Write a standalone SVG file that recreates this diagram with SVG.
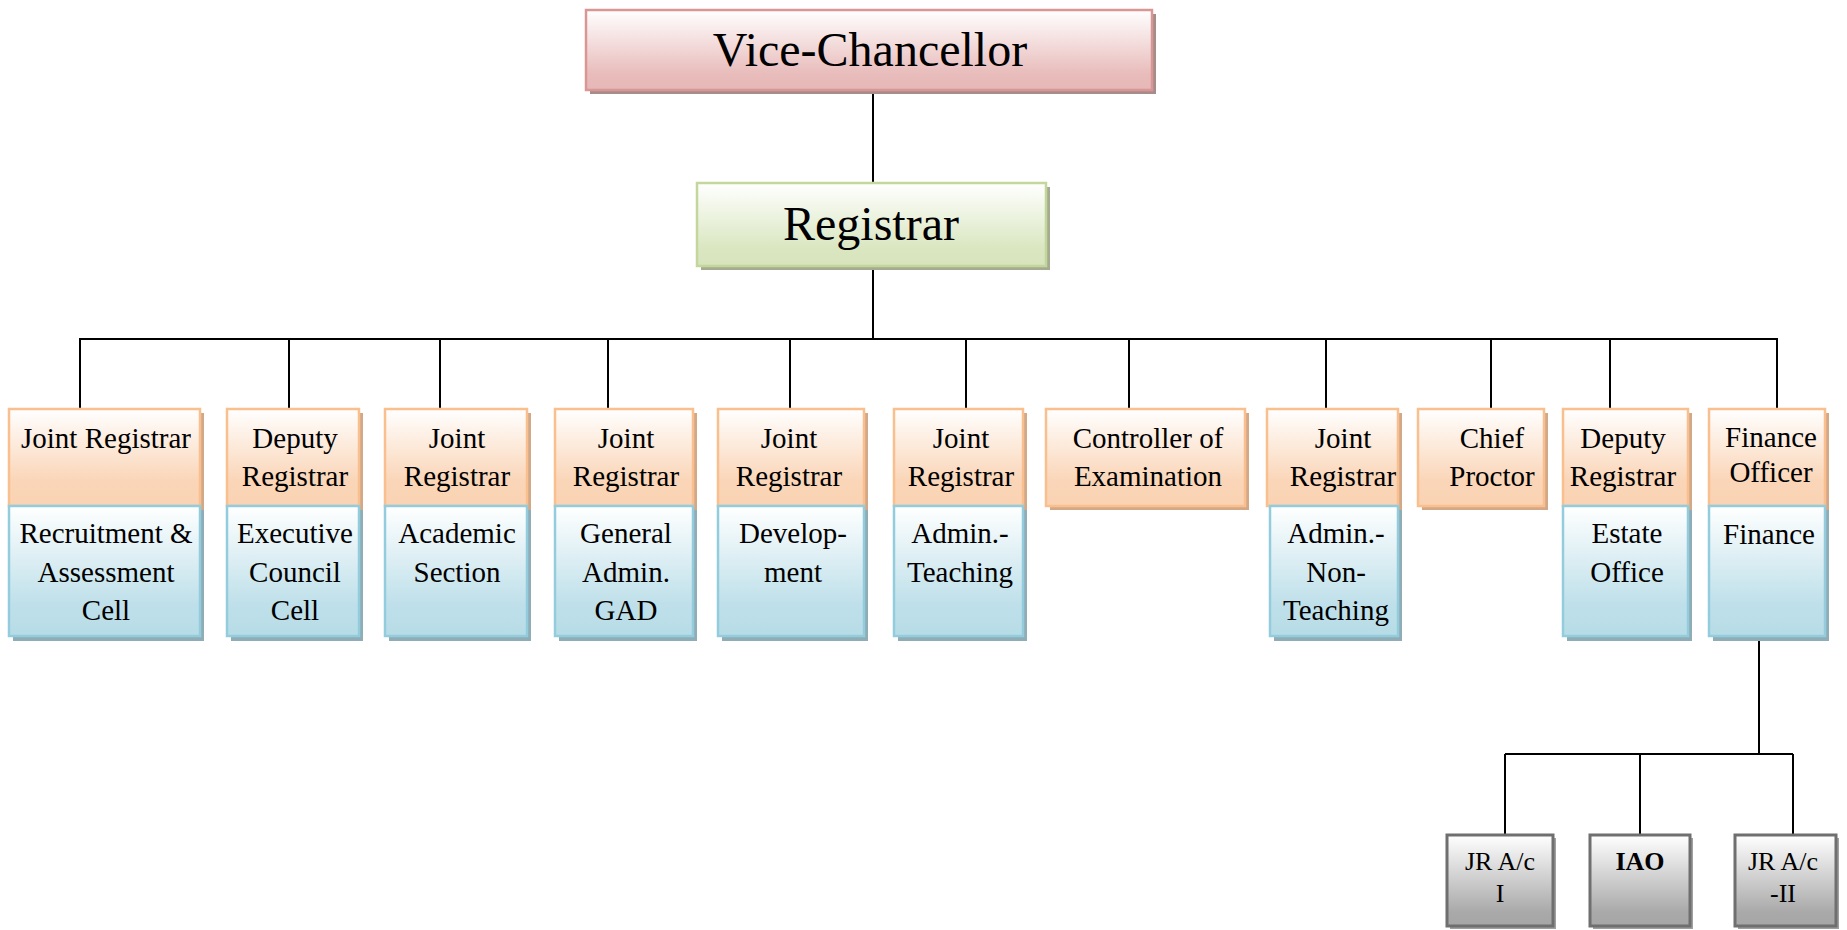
<svg xmlns="http://www.w3.org/2000/svg" width="1847" height="930" viewBox="0 0 1847 930">
<defs>
<linearGradient id="gO" x1="0" y1="0" x2="0" y2="1"><stop offset="0" stop-color="#ffffff"/><stop offset="0.75" stop-color="#fad5b7"/><stop offset="1" stop-color="#f9d3b3"/></linearGradient>
<linearGradient id="gB" x1="0" y1="0" x2="0" y2="1"><stop offset="0" stop-color="#ffffff"/><stop offset="0.75" stop-color="#bfe0ea"/><stop offset="1" stop-color="#b7dce6"/></linearGradient>
<linearGradient id="gP" x1="0" y1="0" x2="0" y2="1"><stop offset="0" stop-color="#ffffff"/><stop offset="0.8" stop-color="#e8bcbb"/><stop offset="1" stop-color="#e6b8b7"/></linearGradient>
<linearGradient id="gG" x1="0" y1="0" x2="0" y2="1"><stop offset="0" stop-color="#ffffff"/><stop offset="0.8" stop-color="#d9e6c0"/><stop offset="1" stop-color="#d7e4bd"/></linearGradient>
<linearGradient id="gY" x1="0" y1="0" x2="0" y2="1"><stop offset="0" stop-color="#ffffff"/><stop offset="0.85" stop-color="#a9a9a9"/><stop offset="1" stop-color="#a6a6a6"/></linearGradient>
</defs>
<style>
.o{fill:url(#gO);stroke:#f9bf8f;stroke-width:2.5}
.b{fill:url(#gB);stroke:#93cddd;stroke-width:2.5}
.p{fill:url(#gP);stroke:#d99694;stroke-width:2.5}
.g{fill:url(#gG);stroke:#c3d69b;stroke-width:2.5}
.y{fill:url(#gY);stroke:#6f6f6f;stroke-width:3}
.so{fill:#d3a887}
.sb{fill:#8fadb6}
.sp{fill:#a88c8c}
.sg{fill:#a4ab91}
.sy{fill:#a0a0a0}
text{font-family:"Liberation Serif","Times New Roman",serif;fill:#000;text-anchor:middle}
.t{font-size:29px}
.big{font-size:48px}
.s{font-size:26px}
.bold{font-weight:bold}
.c line{stroke:#000;stroke-width:2}
</style>
<g class="c" id="connectors">
<line x1="873" y1="90" x2="873" y2="183"/>
<line x1="873" y1="266" x2="873" y2="339"/>
<line x1="79" y1="339" x2="1778" y2="339"/>
<line x1="80" y1="339" x2="80" y2="409"/>
<line x1="289" y1="339" x2="289" y2="409"/>
<line x1="440" y1="339" x2="440" y2="409"/>
<line x1="608" y1="339" x2="608" y2="409"/>
<line x1="790" y1="339" x2="790" y2="409"/>
<line x1="966" y1="339" x2="966" y2="409"/>
<line x1="1129" y1="339" x2="1129" y2="409"/>
<line x1="1326" y1="339" x2="1326" y2="409"/>
<line x1="1491" y1="339" x2="1491" y2="409"/>
<line x1="1610" y1="339" x2="1610" y2="409"/>
<line x1="1777" y1="339" x2="1777" y2="409"/>
<line x1="1759" y1="637" x2="1759" y2="754"/>
<line x1="1505" y1="754" x2="1793" y2="754"/>
<line x1="1505" y1="754" x2="1505" y2="835"/>
<line x1="1640" y1="754" x2="1640" y2="835"/>
<line x1="1793" y1="754" x2="1793" y2="835"/>
</g>
<g id="vice-chancellor">
<rect class="sp" x="590" y="14" width="566" height="80"/>
<rect class="p" x="586" y="10" width="566" height="80"/>
<text class="big" x="870" y="66">Vice-Chancellor</text>
</g>
<g id="registrar">
<rect class="sg" x="701" y="187" width="349" height="83"/>
<rect class="g" x="697" y="183" width="349" height="83"/>
<text class="big" x="871" y="240">Registrar</text>
</g>
<g id="jr-recruitment">
<rect class="so" x="13" y="413" width="191" height="97"/>
<rect class="o" x="9" y="409" width="191" height="97"/>
<rect class="sb" x="13" y="510" width="191" height="131"/>
<rect class="b" x="9" y="506" width="191" height="130"/>
<text class="t" x="106" y="448">Joint Registrar</text>
<text class="t" x="106" y="543">Recruitment &amp;</text>
<text class="t" x="106" y="582">Assessment</text>
<text class="t" x="106" y="620">Cell</text>
</g>
<g id="dr-executive">
<rect class="so" x="231" y="413" width="132" height="97"/>
<rect class="o" x="227" y="409" width="132" height="97"/>
<rect class="sb" x="231" y="510" width="132" height="131"/>
<rect class="b" x="227" y="506" width="132" height="130"/>
<text class="t" x="295" y="448">Deputy</text>
<text class="t" x="295" y="486">Registrar</text>
<text class="t" x="295" y="543">Executive</text>
<text class="t" x="295" y="582">Council</text>
<text class="t" x="295" y="620">Cell</text>
</g>
<g id="jr-academic">
<rect class="so" x="389" y="413" width="142" height="97"/>
<rect class="o" x="385" y="409" width="142" height="97"/>
<rect class="sb" x="389" y="510" width="142" height="131"/>
<rect class="b" x="385" y="506" width="142" height="130"/>
<text class="t" x="457" y="448">Joint</text>
<text class="t" x="457" y="486">Registrar</text>
<text class="t" x="457" y="543">Academic</text>
<text class="t" x="457" y="582">Section</text>
</g>
<g id="jr-gad">
<rect class="so" x="559" y="413" width="138" height="97"/>
<rect class="o" x="555" y="409" width="138" height="97"/>
<rect class="sb" x="559" y="510" width="138" height="131"/>
<rect class="b" x="555" y="506" width="138" height="130"/>
<text class="t" x="626" y="448">Joint</text>
<text class="t" x="626" y="486">Registrar</text>
<text class="t" x="626" y="543">General</text>
<text class="t" x="626" y="582">Admin.</text>
<text class="t" x="626" y="620">GAD</text>
</g>
<g id="jr-development">
<rect class="so" x="722" y="413" width="146" height="97"/>
<rect class="o" x="718" y="409" width="146" height="97"/>
<rect class="sb" x="722" y="510" width="146" height="131"/>
<rect class="b" x="718" y="506" width="146" height="130"/>
<text class="t" x="789" y="448">Joint</text>
<text class="t" x="789" y="486">Registrar</text>
<text class="t" x="793" y="543">Develop-</text>
<text class="t" x="793" y="582">ment</text>
</g>
<g id="jr-admin-teaching">
<rect class="so" x="898" y="413" width="129" height="97"/>
<rect class="o" x="894" y="409" width="129" height="97"/>
<rect class="sb" x="898" y="510" width="129" height="131"/>
<rect class="b" x="894" y="506" width="129" height="130"/>
<text class="t" x="961" y="448">Joint</text>
<text class="t" x="961" y="486">Registrar</text>
<text class="t" x="960" y="543">Admin.-</text>
<text class="t" x="960" y="582">Teaching</text>
</g>
<g id="controller-examination">
<rect class="so" x="1050" y="413" width="199" height="97"/>
<rect class="o" x="1046" y="409" width="199" height="97"/>
<text class="t" x="1148" y="448">Controller of</text>
<text class="t" x="1148" y="486">Examination</text>
</g>
<g id="jr-admin-nonteaching">
<rect class="so" x="1271" y="413" width="131" height="97"/>
<rect class="o" x="1267" y="409" width="131" height="97"/>
<rect class="sb" x="1274" y="510" width="128" height="131"/>
<rect class="b" x="1270" y="506" width="128" height="130"/>
<text class="t" x="1343" y="448">Joint</text>
<text class="t" x="1343" y="486">Registrar</text>
<text class="t" x="1336" y="543">Admin.-</text>
<text class="t" x="1336" y="582">Non-</text>
<text class="t" x="1336" y="620">Teaching</text>
</g>
<g id="chief-proctor">
<rect class="so" x="1422" y="413" width="126" height="97"/>
<rect class="o" x="1418" y="409" width="126" height="97"/>
<text class="t" x="1492" y="448">Chief</text>
<text class="t" x="1492" y="486">Proctor</text>
</g>
<g id="dr-estate">
<rect class="so" x="1567" y="413" width="125" height="97"/>
<rect class="o" x="1563" y="409" width="125" height="97"/>
<rect class="sb" x="1567" y="510" width="125" height="131"/>
<rect class="b" x="1563" y="506" width="125" height="130"/>
<text class="t" x="1623" y="448">Deputy</text>
<text class="t" x="1623" y="486">Registrar</text>
<text class="t" x="1627" y="543">Estate</text>
<text class="t" x="1627" y="582">Office</text>
</g>
<g id="finance-officer">
<rect class="so" x="1713" y="413" width="116" height="97"/>
<rect class="o" x="1709" y="409" width="116" height="97"/>
<rect class="sb" x="1713" y="510" width="116" height="131"/>
<rect class="b" x="1709" y="506" width="116" height="130"/>
<text class="t" x="1771" y="447">Finance</text>
<text class="t" x="1771" y="482">Officer</text>
<text class="t" x="1769" y="544">Finance</text>
</g>
<g id="jr-ac-1">
<rect class="sy" x="1450" y="838" width="106" height="91"/>
<rect class="y" x="1447" y="835" width="106" height="91"/>
<text class="s" x="1500" y="870">JR A/c</text>
<text class="s" x="1500" y="902">I</text>
</g>
<g id="iao">
<rect class="sy" x="1593" y="838" width="100" height="91"/>
<rect class="y" x="1590" y="835" width="100" height="91"/>
<text class="s bold" x="1640" y="870">IAO</text>
</g>
<g id="jr-ac-2">
<rect class="sy" x="1738" y="838" width="101" height="91"/>
<rect class="y" x="1735" y="835" width="101" height="91"/>
<text class="s" x="1783" y="870">JR A/c</text>
<text class="s" x="1783" y="902">-II</text>
</g>
</svg>
